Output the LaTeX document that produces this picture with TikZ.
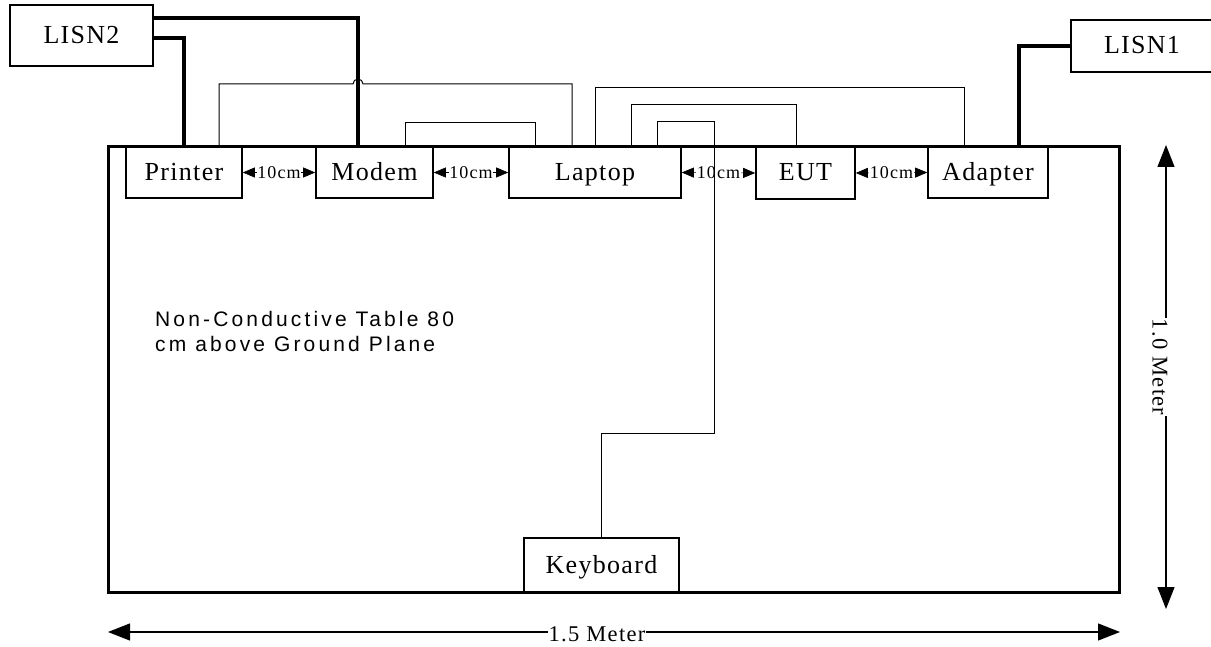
\documentclass[tikz,border=0pt]{standalone}
\usepackage{fontspec}
\setmainfont{Liberation Serif}
\newfontfamily\boxfont{Liberation Serif}[LetterSpace=5]
\newfontfamily\gapfont{Liberation Serif}[LetterSpace=6]
\newfontfamily\dimfont{Liberation Serif}[LetterSpace=6]
\newfontfamily\notefont{Liberation Sans}[LetterSpace=15]
\usepackage{tikz}
\usetikzlibrary{arrows.meta}
\tikzstyle{device}=[draw, line width=1.6pt, fill=white, inner sep=0pt, minimum height=51pt, text height=18pt, text depth=2pt, font=\boxfont\fontsize{26}{30}\selectfont]
\tikzstyle{powercable}=[draw=black, line width=3.5pt]
\tikzstyle{datacable}=[draw=black, line width=1pt]
\tikzstyle{spacer}=[draw=black, line width=0.6pt, {Triangle[length=12pt,width=10pt]}-{Triangle[length=12pt,width=10pt]}]
\tikzstyle{spacerlabel}=[fill=white, inner sep=0.5pt, font=\gapfont\fontsize{18}{20}\selectfont]
\tikzstyle{dimline}=[draw=black, line width=1.2pt, {Triangle[length=22pt,width=17pt]}-{Triangle[length=22pt,width=17pt]}]
\tikzstyle{dimlabel}=[fill=white, inner sep=1pt, font=\dimfont\fontsize{22.5}{25}\selectfont]
\tikzstyle{note}=[inner sep=0pt, align=left, font=\notefont\fontsize{21}{25}\selectfont]

\begin{document}
\begin{tikzpicture}[x=1pt, y=-1pt]
	\useasboundingbox (0,0) rectangle (1211,647);
	\begin{scope}
		\node (lisn2) at (81.5, 35.5)[device, minimum width=143pt, minimum height=61pt] {LISN2};
		\node (lisn1) at (1142, 46)[device, minimum width=142pt, minimum height=52pt] {LISN1};

		\node (printer) at (184, 172.5)[device, minimum width=116pt] {Printer};
		\node (modem) at (374.5, 172.5)[device, minimum width=117pt] {Modem};
		\node (laptop) at (595, 172.5)[device, minimum width=172pt] {Laptop};
		\node (eut) at (805.5, 173)[device, minimum width=99pt, minimum height=52pt] {EUT};
		\node (adapter) at (988, 172.5)[device, minimum width=120pt] {Adapter};
		\node (keyboard) at (601.5, 565)[device, minimum width=155pt, minimum height=54pt] {Keyboard};

		\coordinate (kbbend) at (714, 433);
		\coordinate (hopin) at (353, 84);
		\coordinate (hopout) at (363, 84);
	\end{scope}
	\begin{scope}
		% power cords
		\path [powercable] ([yshift=17.5pt]lisn2.east) -| ([xshift=-16.5pt]modem.north);
		\path [powercable] ([yshift=-2.5pt]lisn2.east) -| (printer.north);
		\path [powercable] (lisn1.west) -| ([xshift=31pt]adapter.north);

		% interface cables
		\path [datacable] ([xshift=35pt]printer.north) |- (hopin) arc[start angle=180, end angle=0, radius=5pt] -- (hopout) -| ([xshift=-23pt]laptop.north);
		\path [datacable] ([xshift=30.5pt]modem.north) -- ++(0,-24) -| ([xshift=-60pt]laptop.north);
		\path [datacable] (laptop.north) -- ++(0,-59) -| ([xshift=-24pt]adapter.north);
		\path [datacable] ([xshift=36pt]laptop.north) -- ++(0,-42) -| ([xshift=-9.5pt]eut.north);
	\end{scope}
	\draw [line width=3pt] (108,147) rectangle (1119,592);
	\begin{scope}
		\path [spacer] (printer.east) -- (modem.west) node[spacerlabel, midway] (gap1) {10cm};
		\path [spacer] (modem.east) -- (laptop.west) node[spacerlabel, midway] (gap2) {10cm};
		\path [spacer] (laptop.east) -- (eut.west) node[spacerlabel, midway] (gap3) {10cm};
		\path [spacer] (eut.east) -- (adapter.west) node[spacerlabel, midway] (gap4) {10cm};
	\end{scope}
	\path [datacable] ([xshift=62pt]laptop.north) -- ++(0,-25) -| (kbbend) -| (keyboard.north);

	\node (table) at (155, 311)[note, anchor=north west] {Non-Conductive Table 80\\cm above Ground Plane};

	% dimensions
	\coordinate (wleft) at (108, 632);
	\coordinate (wright) at (1120, 632);
	\coordinate (htop) at (1166, 145);
	\coordinate (hbottom) at (1166, 609);
	\path [dimline] (wleft) -- (wright);
	\path [dimline] (htop) -- (hbottom);
	\node (width) at (597, 634)[dimlabel] {1.5 Meter};
	\node (depth) at (1160, 367)[dimlabel, rotate=-90] {1.0 Meter};
\end{tikzpicture}
\end{document}
